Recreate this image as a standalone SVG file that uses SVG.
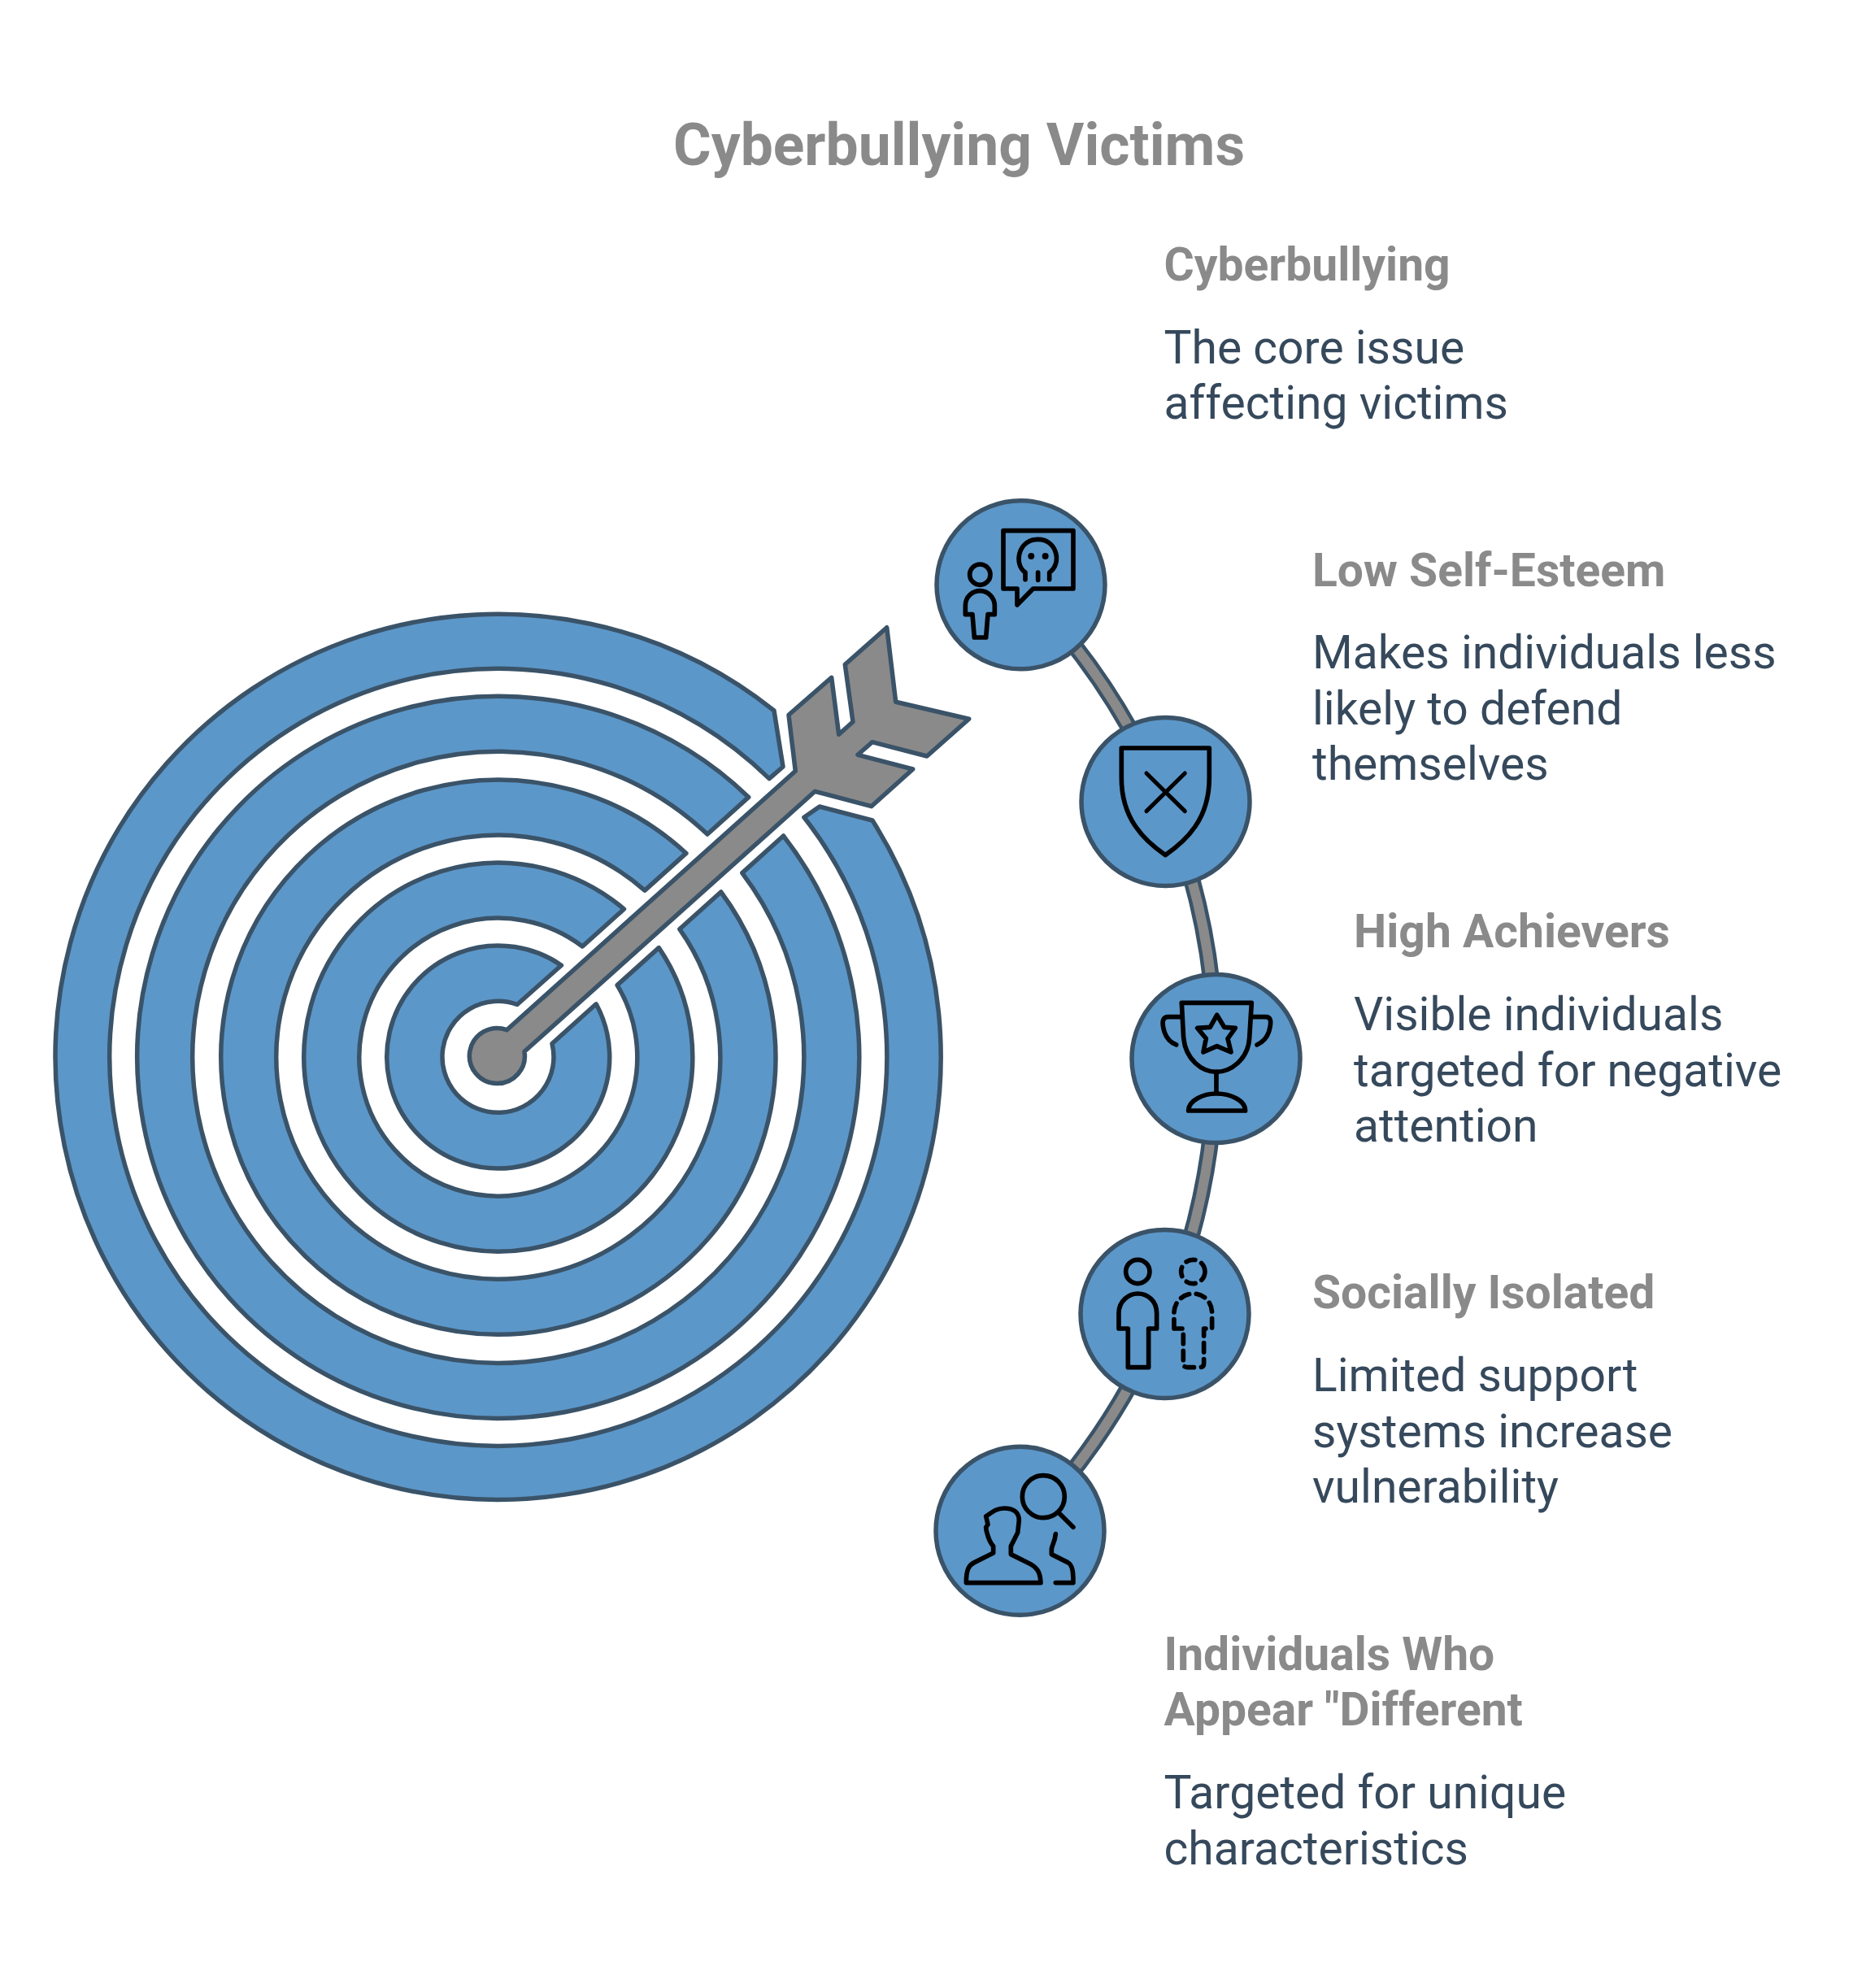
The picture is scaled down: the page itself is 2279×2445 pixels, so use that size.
<svg xmlns="http://www.w3.org/2000/svg" width="2279" height="2445" viewBox="0 0 2279 2445">
<style>
.band{fill:#5c97c9;stroke:#3a5368;stroke-width:5.5;stroke-linejoin:round}
.arrow{fill:#8a8a8a;stroke:#3a5368;stroke-width:5.5;stroke-linejoin:round}
.ring{fill:#5c97c9;stroke:#3a5368;stroke-width:5.5}
.casing{fill:none;stroke:#3a5368;stroke-width:21}
.core{fill:none;stroke:#8a8a8a;stroke-width:12}
.ic{fill:none;stroke:#000;stroke-width:17;stroke-linejoin:round;stroke-linecap:round}
.thin{stroke-width:15}
.dash{stroke-dasharray:34 26}
.dot{fill:#000}
text{font-family:Roboto,"Liberation Sans",sans-serif}
.title{font-size:71.4px;font-weight:700;fill:#8a8a8a}
.head{font-size:57px;font-weight:700;fill:#8a8a8a}
.body{font-size:57px;fill:#36495c}
</style>
<rect width="2279" height="2445" fill="#ffffff"/>
<text class="title" x="828" y="203">Cyberbullying Victims</text>
<g id="connectors">
<path class="casing" d="M1255 719A826 826 0 0 1 1433 986"/>
<path class="casing" d="M1433 986A826 826 0 0 1 1495 1302"/>
<path class="casing" d="M1495 1302A826 826 0 0 1 1432 1616"/>
<path class="casing" d="M1432 1616A826 826 0 0 1 1254 1883"/>
<path class="core" d="M1255 719A826 826 0 0 1 1433 986"/>
<path class="core" d="M1433 986A826 826 0 0 1 1495 1302"/>
<path class="core" d="M1495 1302A826 826 0 0 1 1432 1616"/>
<path class="core" d="M1432 1616A826 826 0 0 1 1254 1883"/>
</g>
<g id="target">
<path class="band" d="M952 874A544.5 544.5 0 1 0 1073 1009L1008 992L988.9 1005.2A478 478 0 1 1 946.1 957.6L963 943Z"/>
<path class="band" d="M920.7 980.4A444 444 0 1 0 963.5 1028L912.8 1073.6A376 376 0 1 1 870 1026Z"/>
<path class="band" d="M843.9 1049.4A341 341 0 1 0 886.7 1097L835.8 1142.7A273 273 0 1 1 793 1095.1Z"/>
<path class="band" d="M767.5 1118A239 239 0 1 0 810.3 1165.6L759.1 1211.6A171 171 0 1 1 716.3 1164Z"/>
<path class="band" d="M690.4 1187.2A137 137 0 1 0 733.2 1234.8L679 1283.5A68.5 68.5 0 1 1 636 1235.5Z"/>
</g>
<g id="arrow">
<path class="arrow" d="M978.3 948.3L970 879.3L1022.7 833.3L1031.7 903.3L1049 887.7L1039.3 817.3L1090.7 771.7L1101.7 863.3L1191.7 884.3L1140 930L1072.7 912.7L1055 928.3L1122.7 946L1071.7 991.7L1002.3 973.3L645 1293.3A34 34 0 1 1 623.3 1266.7Z"/>
</g>
<g id="node-cyberbullying">
<circle class="ring" cx="1255.5" cy="719.3" r="103.5"/>
<g transform="translate(1100 580) scale(.3333)">
<circle class="ic" cx="316" cy="380" r="38"/>
<path class="ic" d="M262 527V495C262 460 290 440 316 440C345 440 370 465 370 495V527H345L338 612H295L288 527Z"/>
<path class="ic" d="M402 218H660V432H512L453 492V432H402Z"/>
<path class="ic" d="M483 398V372C440 345 455 250 530 250C600 250 620 340 572 372V398M530 372V400"/>
<circle class="dot" cx="505" cy="312" r="12"/>
<circle class="dot" cx="557" cy="312" r="12"/>
</g>
<text class="head" x="1431.5" y="344.5">Cyberbullying</text>
<text class="body" x="1431.5" y="447">The core issue</text>
<text class="body" x="1431.5" y="515">affecting victims</text>
</g>
<g id="node-low-self-esteem">
<circle class="ring" cx="1433.5" cy="986" r="103.5"/>
<g transform="translate(1100 580) scale(.3333)">
<path class="ic" d="M838 1020H1162V1130C1162 1280 1080 1360 1000 1415C920 1360 838 1280 838 1130Z"/>
<path class="ic thin" d="M930 1113L1072 1253M1072 1113L930 1253"/>
</g>
<text class="head" x="1614" y="720.5">Low Self-Esteem</text>
<text class="body" x="1614" y="822">Makes individuals less</text>
<text class="body" x="1614" y="891">likely to defend</text>
<text class="body" x="1614" y="959">themselves</text>
</g>
<g id="node-high-achievers">
<circle class="ring" cx="1495.5" cy="1302" r="103.5"/>
<g transform="translate(1340 1170) scale(.3333)">
<path class="ic" d="M340 190H598L590 320C585 400 520 445 468 445C415 445 355 400 347 320Z"/>
<path class="ic" d="M468 445V525M365 588C365 550 420 525 468 525C520 525 575 550 575 588Z"/>
<path class="ic" d="M340 242H290C270 242 268 260 272 280C278 315 295 335 320 345M600 242H650C670 242 670 260 666 280C660 315 640 335 618 345"/>
<path class="ic" d="M470 235L497 280L538 283L510 322L522 372L470 350L420 372L430 322L398 283L445 280Z"/>
</g>
<text class="head" x="1665" y="1164.5">High Achievers</text>
<text class="body" x="1665" y="1267">Visible individuals</text>
<text class="body" x="1665" y="1336">targeted for negative</text>
<text class="body" x="1665" y="1404">attention</text>
</g>
<g id="node-socially-isolated">
<circle class="ring" cx="1432.5" cy="1616" r="103.5"/>
<g transform="translate(1120 1480) scale(.3333)">
<circle class="ic" cx="838" cy="252" r="44"/>
<path class="ic" d="M768 462V405C768 360 805 333 838 333C875 333 908 360 908 405V462H878V605H802V462Z"/>
<circle class="ic dash" cx="1042" cy="252" r="44"/>
<path class="ic dash" d="M972 462V405C972 360 1009 333 1042 333C1079 333 1112 360 1112 405V462H1082V590Q1082 605 1066 605H1022Q1006 605 1006 590V462Z"/>
</g>
<text class="head" x="1614" y="1608.5">Socially Isolated</text>
<text class="body" x="1614" y="1711">Limited support</text>
<text class="body" x="1614" y="1780">systems increase</text>
<text class="body" x="1614" y="1848">vulnerability</text>
</g>
<g id="node-different">
<circle class="ring" cx="1254.5" cy="1882.7" r="103.5"/>
<g transform="translate(1120 1480) scale(.3333)">
<circle class="ic" cx="490" cy="1082" r="78"/>
<path class="ic" d="M545 1140L600 1195"/>
<path class="ic" d="M205 1400C205 1350 215 1335 235 1325L305 1290V1265C290 1250 285 1230 280 1210L278 1195L285 1185L278 1155C300 1140 315 1125 345 1125C380 1125 400 1140 400 1170L395 1215C385 1235 375 1255 370 1265V1295L440 1330C470 1345 478 1365 480 1400Z"/>
<path class="ic" d="M535 1220C532 1250 522 1260 520 1275V1295L580 1325C598 1335 600 1360 600 1400H535"/>
</g>
<text class="head" x="1431.5" y="2053.5">Individuals Who</text>
<text class="head" x="1431.5" y="2121.5">Appear "Different</text>
<text class="body" x="1431.5" y="2224">Targeted for unique</text>
<text class="body" x="1431.5" y="2293">characteristics</text>
</g>
</svg>
